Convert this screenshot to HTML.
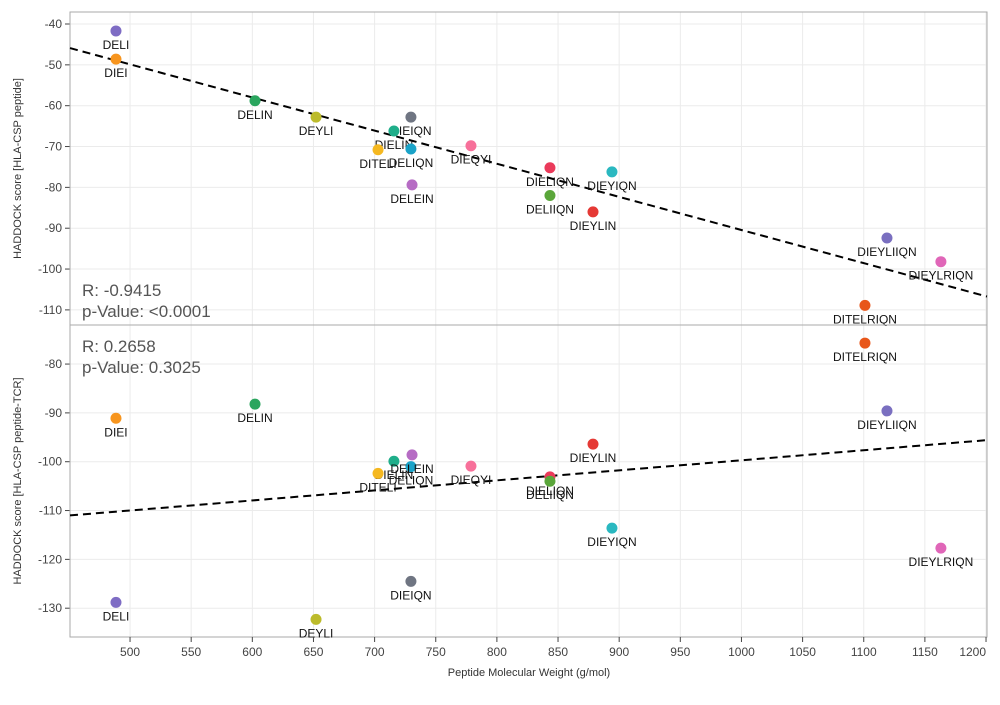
<!DOCTYPE html>
<html><head><meta charset="utf-8"><style>
body{margin:0;background:#fff;font-family:"Liberation Sans",Arial,sans-serif}
svg text{font-family:"Liberation Sans",Arial,sans-serif}
</style></head><body>
<svg id="chart" width="1000" height="700"></svg>
<script>
const peptides=["DELI","DIEI","DELIN","DEYLI","DIEIQN","DIELIN","DITELI","DELIQN","DELEIN","DIEQYI","DIELIQN","DELIIQN","DIEYIQN","DIEYLIN","DIEYLIIQN","DIEYLRIQN","DITELRIQN"];
const weights=[488.5,488.5,602.2,652.1,729.7,715.8,702.8,729.7,730.6,778.8,843.4,843.4,894.1,878.6,1119,1163.1,1101];
const scoresCSP=[-41.7,-48.6,-58.8,-62.8,-62.8,-66.2,-70.8,-70.6,-79.4,-69.8,-75.2,-82,-76.2,-86,-92.4,-98.2,-108.9];
const scoresTCR=[-128.8,-91.1,-88.2,-132.3,-124.5,-99.9,-102.4,-101,-98.6,-100.9,-103.1,-104,-113.6,-96.4,-89.6,-117.7,-75.7];
const colors=["#7e6cc4","#f7951e","#2aa55e","#bcbb2b","#6f7582","#1fae8a","#f5b820","#1aa3c8","#b66cc4","#f7709a","#ea3a5a","#5aa63a","#2ab8c0","#e53935","#7a6fc0","#e066b8","#e8561a"];
const xTicks=[500,550,600,650,700,750,800,850,900,950,1000,1050,1100,1150,1200];
const yTicksTop=[-40,-50,-60,-70,-80,-90,-100,-110];
const yTicksBot=[-80,-90,-100,-110,-120,-130];
const statsTop=["R: -0.9415","p-Value: <0.0001"];
const statsBot=["R: 0.2658","p-Value: 0.3025"];

const NS="http://www.w3.org/2000/svg";
const svg=document.getElementById('chart');
const L=70,R=987,XMIN=450.9,XMAX=1200.8;
const xS=v=>L+(v-XMIN)*(R-L)/(XMAX-XMIN);
function mk(t,a,p){const e=document.createElementNS(NS,t);for(const k in a)e.setAttribute(k,a[k]);(p||svg).appendChild(e);return e;}
function panel(top,bot,ymax,ymin,ticks,data,stats,title,name,statY){
  const yS=v=>top+(ymax-v)*(bot-top)/(ymax-ymin);
  const g=mk('g',{});
  
  
  xTicks.forEach(t=>{const l=mk('line',{x1:xS(t),x2:xS(t),y1:top,y2:bot,stroke:'#ebebeb'},g);
    });
  ticks.forEach(t=>{const y=yS(t);
    const l=mk('line',{x1:L,x2:R,y1:y,y2:y,stroke:'#ebebeb'},g);
    
    mk('line',{x1:L-5,x2:L,y1:y,y2:y,stroke:'#444'},g);
    const tx=mk('text',{x:L-8,y:y+4,'text-anchor':'end','font-size':12,fill:'#444'},g);tx.textContent=t;
    });
  const r=mk('rect',{x:L,y:top,width:R-L,height:bot-top,fill:'none',stroke:'#aaa'},g);
  
  const n=weights.length;let mx=0,my=0;for(let i=0;i<n;i++){mx+=weights[i];my+=data[i];}mx/=n;my/=n;
  let sxy=0,sxx=0;for(let i=0;i<n;i++){sxy+=(weights[i]-mx)*(data[i]-my);sxx+=(weights[i]-mx)**2;}
  const b=sxy/sxx,a=my-b*mx;
  const ln=mk('line',{x1:L,x2:R,y1:yS(a+b*XMIN),y2:yS(a+b*XMAX),stroke:'#000','stroke-width':2,'stroke-dasharray':'8,5'},g);
  
  for(let i=0;i<n;i++){const x=xS(weights[i]),y=yS(data[i]);
    const c=mk('circle',{cx:x,cy:y,r:5.5,fill:colors[i]},g);
    
    const t=mk('text',{x:x,y:y+18,'text-anchor':'middle','font-size':12,fill:'#111'},g);t.textContent=peptides[i];
    }
  stats.forEach((s,k)=>{const t=mk('text',{x:82,y:statY+k*21,'font-size':17,fill:'#555'},g);t.textContent=s;
    });
  const yt=mk('text',{x:0,y:0,'font-size':11,fill:'#333','text-anchor':'middle',transform:`translate(21,${(top+bot)/2}) rotate(-90)`},g);
  yt.textContent=title;
}
panel(12,325,-37.06,-113.7,yTicksTop,scoresCSP,statsTop,'HADDOCK score [HLA-CSP peptide]','top',296);
panel(325,637,-72.0,-135.9,yTicksBot,scoresTCR,statsBot,'HADDOCK score [HLA-CSP peptide-TCR]','bottom',352);
xTicks.forEach((t,i)=>{const x=xS(t);mk('line',{x1:x,x2:x,y1:637,y2:642,stroke:'#444'});
  const last=i===xTicks.length-1;
  const tx=mk('text',{x:last?x:x,y:656,'text-anchor':last?'end':'middle','font-size':12,fill:'#444'});tx.textContent=t;
  });
const xt=mk('text',{x:529,y:676,'text-anchor':'middle','font-size':11,fill:'#333'});
xt.textContent='Peptide Molecular Weight (g/mol)';


</script>
</body></html>
